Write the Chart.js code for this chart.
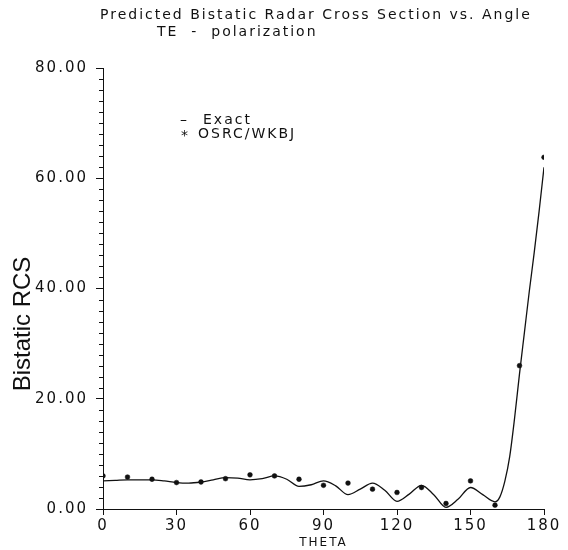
<!DOCTYPE html>
<html>
<head>
<meta charset="utf-8">
<script src="https://cdn.jsdelivr.net/npm/chart.js@4.4.1/dist/chart.umd.min.js"></script>
<style>
    html, body { margin: 0; padding: 0; background: #fff; }
    #wrap { width: 568px; height: 550px; position: relative; }
</style>
</head>
<body>
<div id="wrap"><canvas id="rcs-chart"></canvas></div>
<script>
(function () {
    "use strict";

    // Text
    const titleLines = ["Predicted Bistatic Radar Cross Section vs. Angle", "TE  -  polarization"];
    const legendMarks = ["\u2013", "*"];
    const legendLabels = ["Exact", "OSRC/WKBJ"];
    const xTitle = "THETA";
    const yTitle = "Bistatic RCS";

    // Exact solution (solid curve)
    const exactTheta = [
        0, 5, 10, 15, 20, 25, 30, 35, 40, 45, 50, 55, 60, 65, 70, 75, 80, 85,
        90, 95, 100, 105, 110, 115, 120, 125, 130, 135, 140, 145, 150, 155,
        160, 162, 164, 166, 168, 170, 172, 174, 176, 178, 180,
    ];
    const exactRcs = [
        5.1, 5.2, 5.3, 5.3, 5.3, 5.1, 4.8, 4.7, 4.9, 5.3, 5.7, 5.6, 5.3, 5.5,
        6.0, 5.4, 4.1, 4.4, 5.1, 4.2, 2.6, 3.6, 4.7, 3.4, 1.4, 2.7, 4.3, 2.6,
        0.3, 1.8, 3.9, 2.6, 1.3, 2.2, 5.0, 9.5, 16.5, 24.5, 32.0, 39.5, 46.5,
        54.0, 62.0,
    ];

    // OSRC/WKBJ approximation (star markers)
    const osrcTheta = [0, 10, 20, 30, 40, 50, 60, 70, 80, 90, 100, 110, 120, 130, 140, 150, 160, 170, 180];
    const osrcRcs = [6.0, 5.8, 5.4, 4.8, 4.9, 5.5, 6.2, 6.0, 5.4, 4.3, 4.7, 3.6, 3.0, 3.9, 1.0, 5.1, 0.7, 26.0, 63.8];

    const ink = "#111111";
    const font = "'DejaVu Sans', sans-serif";

    Chart.defaults.font.family = font;
    Chart.defaults.color = ink;

    const overlay = {
        id: "overlay",
        beforeLayout(chart) {
            chart.ctx.letterSpacing = "2px";
        },
        beforeDraw(chart) {
            const ctx = chart.ctx;
            ctx.save();
            ctx.fillStyle = "#ffffff";
            ctx.fillRect(0, 0, chart.width, chart.height);
            ctx.restore();
            ctx.letterSpacing = "2px";
        },
        afterDraw(chart) {
            const { ctx, scales } = chart;
            const x = scales.x;
            const y = scales.y;
            ctx.save();
            ctx.letterSpacing = "2px";

            // minor ticks on the RCS axis
            ctx.strokeStyle = ink;
            ctx.lineWidth = 1;
            ctx.beginPath();
            for (let v = 2; v < 80; v += 2) {
                if (v % 20 === 0) continue;
                const py = Math.round(y.getPixelForValue(v)) + 0.5;
                ctx.moveTo(x.left - 4, py);
                ctx.lineTo(x.left, py);
            }
            ctx.stroke();

            // title
            ctx.fillStyle = ink;
            ctx.font = "14px " + font;
            ctx.textAlign = "left";
            ctx.textBaseline = "middle";
            ctx.fillText(titleLines[0], 100, 15);
            ctx.fillText(titleLines[1], 157, 32);

            // legend
            ctx.fillText(legendMarks[0], 180, 120);
            ctx.fillText(legendLabels[0], 203, 120);
            ctx.fillText(legendMarks[1], 181, 136);
            ctx.fillText(legendLabels[1], 198, 134);

            // y axis title, sits a bit below the middle of the axis
            ctx.letterSpacing = "0px";
            ctx.font = "24px 'Liberation Sans', sans-serif";
            ctx.textAlign = "center";
            ctx.translate(23, 324);
            ctx.rotate(-Math.PI / 2);
            ctx.fillText(yTitle, 0, 0);
            ctx.restore();
        },
    };

    const ctx = document.getElementById("rcs-chart").getContext("2d");

    new Chart(ctx, {
        type: "line",
        data: {
            datasets: [
                {
                    type: "scatter",
                    label: legendLabels[1],
                    data: osrcTheta.map((t, i) => ({ x: t, y: osrcRcs[i] })),
                    pointRadius: 2.4,
                    pointBackgroundColor: ink,
                    pointBorderColor: ink,
                    pointBorderWidth: 0.5,
                    showLine: false,
                    order: 0,
                },
                {
                    label: legendLabels[0],
                    data: exactTheta.map((t, i) => ({ x: t, y: exactRcs[i] })),
                    borderColor: ink,
                    borderWidth: 1.3,
                    pointRadius: 0,
                    cubicInterpolationMode: "monotone",
                    fill: false,
                    order: 1,
                },
            ],
        },
        options: {
            responsive: true,
            maintainAspectRatio: false,
            animation: false,
            layout: {
                padding: { top: 68, right: 24, left: 0, bottom: 0 },
            },
            plugins: {
                legend: { display: false },
                title: { display: false },
                tooltip: { enabled: false },
            },
            scales: {
                x: {
                    type: "linear",
                    min: 0,
                    max: 180,
                    afterFit(scale) {
                        scale.height = 41;
                    },
                    ticks: {
                        stepSize: 30,
                        padding: 2,
                        font: { size: 15 },
                        maxRotation: 0,
                        color: ink,
                    },
                    grid: {
                        drawOnChartArea: false,
                        drawTicks: true,
                        tickLength: 6,
                        color: ink,
                    },
                    border: { display: true, color: ink, width: 1 },
                    title: {
                        display: true,
                        text: xTitle,
                        font: { size: 12 },
                        color: ink,
                        padding: { top: 0, bottom: 0 },
                    },
                },
                y: {
                    type: "linear",
                    min: 0,
                    max: 80,
                    afterFit(scale) {
                        scale.width = 103;
                    },
                    ticks: {
                        stepSize: 20,
                        padding: 8,
                        font: { size: 15 },
                        color: ink,
                        callback: (v) => Number(v).toFixed(2),
                    },
                    grid: {
                        drawOnChartArea: false,
                        drawTicks: true,
                        tickLength: 7,
                        color: ink,
                    },
                    border: { display: true, color: ink, width: 1 },
                    title: { display: false },
                },
            },
        },
        plugins: [overlay],
    });
})();
</script>
</body>
</html>
